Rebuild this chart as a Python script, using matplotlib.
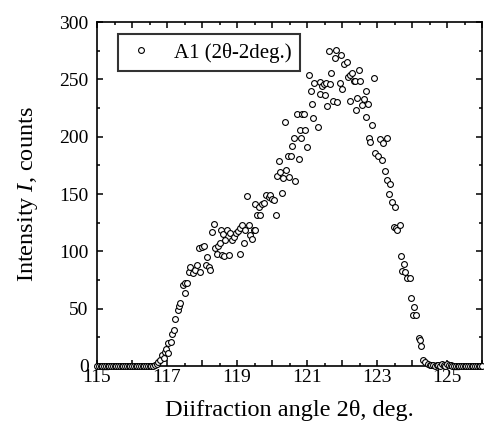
import numpy as np
import matplotlib.pyplot as plt
from matplotlib.ticker import MultipleLocator

plt.rcParams['font.family'] = ['Liberation Serif', 'DejaVu Serif']
plt.rcParams['mathtext.fontset'] = 'custom'
plt.rcParams['mathtext.it'] = 'Liberation Serif:italic'
plt.rcParams['mathtext.rm'] = 'Liberation Serif'

# flat background (left)
x_left = [115.00, 115.05, 115.10, 115.15, 115.20, 115.25, 115.30, 115.35,
          115.40, 115.45, 115.50, 115.55, 115.60, 115.65, 115.70, 115.75,
          115.80, 115.85, 115.90, 115.95, 116.00, 116.05, 116.10, 116.15,
          116.20, 116.25, 116.30, 116.35, 116.40, 116.45, 116.50, 116.55]
y_left = [0, 0, 0, 0, 0, 0, 0, 0, 0, 0, 0, 0, 0, 0, 0, 0,
          0, 0, 0, 0, 0, 0, 0, 0, 0, 0, 0, 0, 0, 0, 0, 0]

# peak region
x_peak = [116.60, 116.65, 116.70, 116.75, 116.80, 116.85, 116.90, 116.95, 116.98, 117.02,
          117.04, 117.10, 117.14, 117.19, 117.24, 117.30, 117.34, 117.38, 117.46, 117.50,
          117.52, 117.57, 117.62, 117.67, 117.74, 117.81, 117.86, 117.90, 117.95, 118.00,
          118.05, 118.12, 118.14, 118.19, 118.24, 118.28, 118.33, 118.38, 118.43, 118.47,
          118.52, 118.54, 118.57, 118.60, 118.64, 118.67, 118.71, 118.76, 118.81, 118.86,
          118.90, 118.98, 119.03, 119.08, 119.09, 119.14, 119.19, 119.24, 119.29, 119.33,
          119.38, 119.43, 119.48, 119.50, 119.52, 119.57, 119.62, 119.65, 119.71, 119.76,
          119.84, 119.90, 119.95, 120.00, 120.05, 120.12, 120.14, 120.19, 120.24, 120.28,
          120.31, 120.36, 120.41, 120.45, 120.49, 120.54, 120.58, 120.62, 120.67, 120.71,
          120.76, 120.79, 120.83, 120.86, 120.92, 120.95, 121.00, 121.05, 121.10, 121.14,
          121.17, 121.21, 121.30, 121.36, 121.38, 121.43, 121.48, 121.52, 121.55, 121.57,
          121.62, 121.65, 121.69, 121.74, 121.79, 121.83, 121.86, 121.93, 121.98, 122.00,
          122.05, 122.14, 122.16, 122.22, 122.24, 122.29, 122.33, 122.38, 122.40, 122.43,
          122.48, 122.52, 122.57, 122.62, 122.67, 122.69, 122.75, 122.76, 122.81, 122.86,
          122.90, 122.95, 123.02, 123.08, 123.14, 123.17, 123.22, 123.27, 123.29, 123.35,
          123.38, 123.43, 123.47, 123.52, 123.55, 123.57, 123.65, 123.69, 123.71, 123.76,
          123.81, 123.86, 123.95, 123.97, 124.02, 124.05, 124.12, 124.19, 124.24, 124.26,
          124.30, 124.38, 124.45, 124.50, 124.55, 124.60, 124.65, 124.70, 124.75, 124.80,
          124.85, 124.90, 124.95, 125.00, 125.05, 125.10]
y_peak = [0, 1, 1.5, 3, 5, 9.5, 7, 12, 14.5, 11,
          19.7, 20.6, 27.6, 31, 40.7, 49, 52, 54.5, 70.6, 72.6,
          63.9, 72.6, 82, 86.5, 80.7, 83.6, 88, 102.5, 82, 104,
          104.5, 88, 95, 86.5, 84, 117, 124, 102.5, 98, 105,
          107, 119, 96.7, 115, 95.8, 110, 118.5, 96.7, 115.6, 110,
          112.6, 115.6, 118, 120, 98, 122.8, 107, 118.5, 148, 122.8,
          114, 111, 118.5, 141, 118.5, 132, 139, 132, 141.7, 142,
          149.5, 147.5, 149, 146, 145, 132, 166, 179, 169, 151,
          164, 213, 171, 183, 165, 183, 192, 199, 161, 220,
          181, 206, 199, 220, 219.5, 206, 191, 253.5, 240, 229,
          216, 246.8, 208.5, 237.5, 247.7, 244, 245.6, 236, 246.8, 227,
          274.7, 246, 256, 231, 269, 276, 230, 247, 271.5, 241.5,
          263.6, 265, 252, 231, 254, 255.5, 248.5, 249, 223.6, 234,
          258.4, 248.5, 227.4, 233, 217, 239.5, 229, 199, 195, 210,
          251, 186, 183, 198, 180, 194.5, 170, 199, 162, 150,
          159, 143, 121, 138.8, 120, 118.5, 122.8, 95.8, 83, 88.9,
          82, 77, 77, 59, 44.4, 51.7, 44.4, 24, 23, 17.4,
          5, 3.7, 2, 1, 1, 0.5, 0, 1, 1, 0,
          2, 1, 0, 2, 1, 0.5]

# flat background (right)
x_right = [125.15, 125.20, 125.25, 125.30, 125.35, 125.40, 125.45, 125.50, 125.55,
           125.60, 125.65, 125.70, 125.75, 125.80, 125.85, 125.90, 125.95, 126.00]
y_right = [0, 0, 0, 0, 0, 0, 0, 0, 0, 0, 0, 0, 0, 0, 0, 0, 0, 0]

x_all = x_left + x_peak + x_right
y_all = y_left + y_peak + y_right

fig = plt.figure(figsize=(4.85, 4.26), dpi=100)
ax = fig.add_axes([0.2, 0.141, 0.794, 0.807])

ax.plot(x_all, y_all, 'o', mfc='white', mec='black', ms=4.2, mew=0.8,
        label='A1 (2\u03b8-2deg.)', clip_on=False, zorder=3)

ax.set_xlim(115, 126)
ax.set_ylim(0, 300)
ax.xaxis.set_minor_locator(MultipleLocator(0.5))
ax.yaxis.set_major_locator(MultipleLocator(50))
ax.yaxis.set_minor_locator(MultipleLocator(25))
ax.set_xticks(np.arange(115, 127, 1))
ax.set_xticklabels(['115', '', '117', '', '119', '', '121', '', '123', '', '125', ''])

ax.tick_params(which='both', direction='in', top=True, right=True, width=1.1,
               labelsize=14)
ax.tick_params(axis='x', pad=2.5)
ax.tick_params(axis='y', pad=6)
ax.tick_params(which='major', length=4)
ax.tick_params(which='minor', length=2.2)
for s in ax.spines.values():
    s.set_linewidth(1.2)

ax.set_xlabel('Diifraction angle 2\u03b8, deg.', fontsize=17.5, labelpad=10)
ax.set_ylabel('Intensity $I$, counts', fontsize=17.5, labelpad=14)

leg = ax.legend(loc='upper left', bbox_to_anchor=(0.055, 0.965), borderaxespad=0,
                fontsize=15, frameon=True, fancybox=False, edgecolor='black',
                handlelength=1.4, handletextpad=0.9, borderpad=0.4)
leg.get_frame().set_linewidth(1.5)

fig.savefig('out.png', dpi=100)
